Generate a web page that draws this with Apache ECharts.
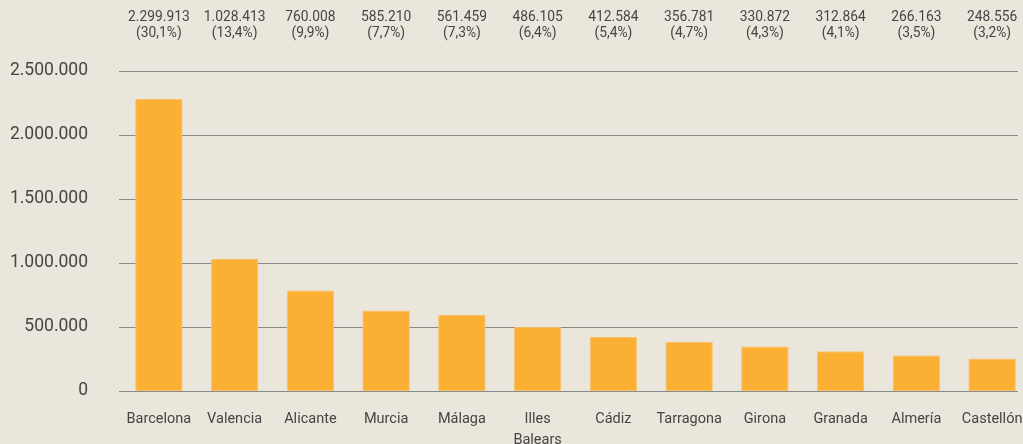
<!DOCTYPE html>
<html>
<head>
<meta charset="utf-8">
<script src="https://cdn.jsdelivr.net/npm/echarts@6/dist/echarts.min.js"></script>
<style>
  html, body { margin: 0; padding: 0; background: #ebe6dc; }
  #chart { width: 1023px; height: 444px; }
</style>
</head>
<body>
<div id="chart"></div>
<script>
// Data
const categories = ['Barcelona', 'Valencia', 'Alicante', 'Murcia', 'Málaga', 'Illes\nBalears', 'Cádiz', 'Tarragona', 'Girona', 'Granada', 'Almería', 'Castellón'];
const barValues = [2281000, 1031000, 784000, 627000, 594000, 499000, 422000, 383000, 346000, 309000, 276000, 252000];
const labelValues = ['2.299.913', '1.028.413', '760.008', '585.210', '561.459', '486.105', '412.584', '356.781', '330.872', '312.864', '266.163', '248.556'];
const labelShares = ['(30,1%)', '(13,4%)', '(9,9%)', '(7,7%)', '(7,3%)', '(6,4%)', '(5,4%)', '(4,7%)', '(4,3%)', '(4,1%)', '(3,5%)', '(3,2%)'];
const yTickLabels = ['0', '500.000', '1.000.000', '1.500.000', '2.000.000', '2.500.000'];

const FONT = 'Roboto, "Liberation Sans", sans-serif';
const chart = echarts.init(document.getElementById('chart'), null, { renderer: 'canvas' });

chart.setOption({
  backgroundColor: '#ebe6dc',
  animation: false,
  grid: [
    { left: 119, right: 5, top: 71, bottom: 53, containLabel: false, outerBoundsMode: 'none' },
    { left: 121, right: -7, top: 71, bottom: 53, containLabel: false, outerBoundsMode: 'none' }
  ],
  xAxis: [
    { gridIndex: 0, type: 'category', data: categories, show: false },
    {
      gridIndex: 1, type: 'category', data: categories, position: 'bottom',
      axisLine: { show: false }, axisTick: { show: false },
      axisLabel: {
        interval: 0, margin: 18, fontFamily: FONT, fontWeight: 400,
        fontSize: 14.5, lineHeight: 21, color: '#454545'
      }
    },
    {
      gridIndex: 1, type: 'category', data: categories, position: 'top',
      axisLine: { show: false }, axisTick: { show: false },
      axisLabel: {
        interval: 0, margin: 29, fontFamily: FONT, fontWeight: 400,
        fontSize: 13.8, lineHeight: 16, color: '#454545',
        formatter: (v, i) => labelValues[i] + '\n' + labelShares[i]
      }
    }
  ],
  yAxis: [
    {
      gridIndex: 0, type: 'value', min: 0, max: 2500000, interval: 500000,
      axisLine: { show: false }, axisTick: { show: false },
      splitLine: { show: true, lineStyle: { color: '#8a8a8a', width: 1 } },
      axisLabel: {
        margin: 31, fontFamily: FONT, fontWeight: 400, fontSize: 17.5, color: '#454545',
        formatter: (v) => yTickLabels[Math.round(v / 500000)]
      }
    },
    {
      gridIndex: 1, type: 'value', min: 0, max: 2500000, interval: 500000, show: false,
      splitLine: { show: false }
    }
  ],
  series: [
    {
      type: 'bar', xAxisIndex: 1, yAxisIndex: 1, data: barValues, barWidth: 47,
      itemStyle: { color: '#fbb034', borderColor: '#f6c26a', borderWidth: 1 },
      z: 1
    }
  ]
});
</script>
</body>
</html>
